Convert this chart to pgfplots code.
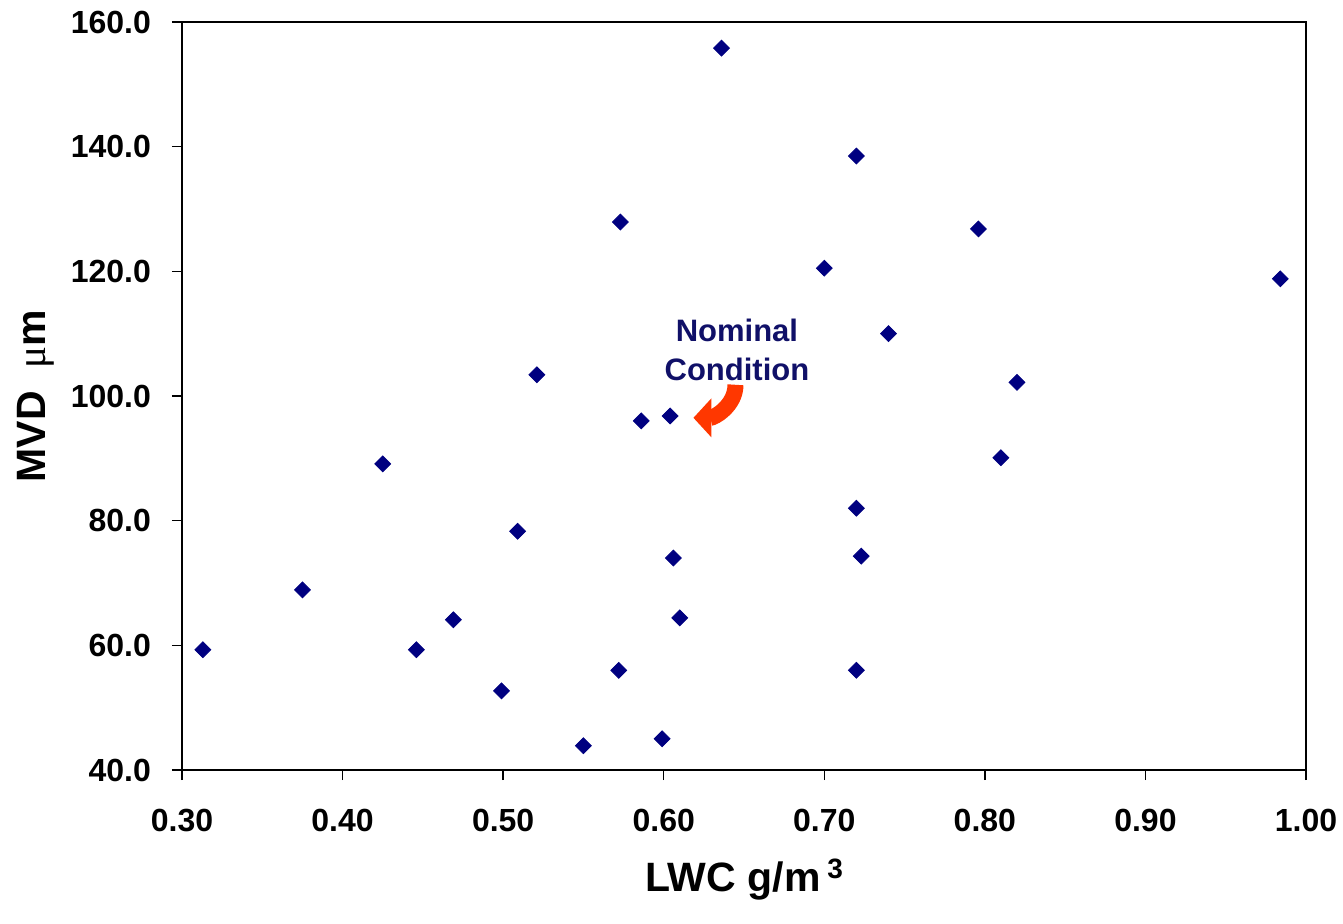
\documentclass[border=0pt]{standalone}
\usepackage{fontspec}
\setmainfont{Liberation Sans}
\newfontfamily\symfont{Liberation Serif}
\usepackage{pgfplots}
\pgfplotsset{compat=1.18}
\usetikzlibrary{arrows.meta}
\definecolor{navy}{RGB}{0,0,128}
\definecolor{labelnavy}{RGB}{16,16,104}
\definecolor{arrowred}{RGB}{255,55,0}

\begin{document}
\begin{tikzpicture}
\useasboundingbox (-91pt,-76.5pt) rectangle (580.5pt,385pt);
\begin{axis}[
    scale only axis,
    width=562pt,
    height=374pt,
    xmin=0.3, xmax=1.0,
    ymin=40, ymax=160,
    xtick={0.3,0.4,0.5,0.6,0.7,0.8,0.9,1.0},
    ytick={40,60,80,100,120,140,160},
    axis line style={line width=0.7pt},
    tick style={black, line width=0.7pt},
    major tick length=5pt,
    tick align=outside,
    tickpos=left,
    /pgf/number format/assume math mode=true,
    ticklabel style={font=\fontsize{16}{19}\selectfont\bfseries},
    xticklabel style={/pgf/number format/.cd, fixed, fixed zerofill, precision=2, /tikz/.cd, yshift=-11pt},
    yticklabel style={/pgf/number format/.cd, fixed, fixed zerofill, precision=1, /tikz/.cd, xshift=-7pt},
    xlabel={LWC g/m\,\raisebox{0.6ex}{\fontsize{14}{16}\selectfont 3}},
    ylabel={MVD\ \ {\symfont\mdseries μ}m},
    label style={font=\fontsize{20.5}{24}\selectfont\bfseries},
    xlabel style={at={(axis description cs:0.5,0)}, anchor=center, yshift=-55pt},
    ylabel style={at={(axis description cs:0,0.5)}, anchor=center, yshift=73pt},
]
\addplot[only marks, mark=square*, mark size=2.8pt, color=navy,
         mark options={rotate=45}] table {
x      y
0.313  59.3
0.375  68.9
0.425  89.1
0.446  59.3
0.469  64.1
0.499  52.7
0.509  78.3
0.521  103.4
0.550  43.9
0.572  56.0
0.573  127.9
0.586  96.0
0.599  45.0
0.604  96.8
0.606  74.0
0.610  64.4
0.636  155.8
0.700  120.5
0.720  138.5
0.720  82.0
0.720  56.0
0.723  74.3
0.740  110.0
0.796  126.8
0.810  90.1
0.820  102.2
0.984  118.8
};
\node[align=center, text=labelnavy, font=\fontsize{15.5}{19.5}\selectfont\bfseries]
  at (axis cs:0.6456,107.4) {Nominal\\Condition};
\draw[arrowred, line width=8pt, -{Triangle[width=19pt,length=9pt]}]
  (axis cs:0.6447,101.8) to[out=-90,in=0] (axis cs:0.6185,96.5);
\end{axis}
\end{tikzpicture}
\end{document}
